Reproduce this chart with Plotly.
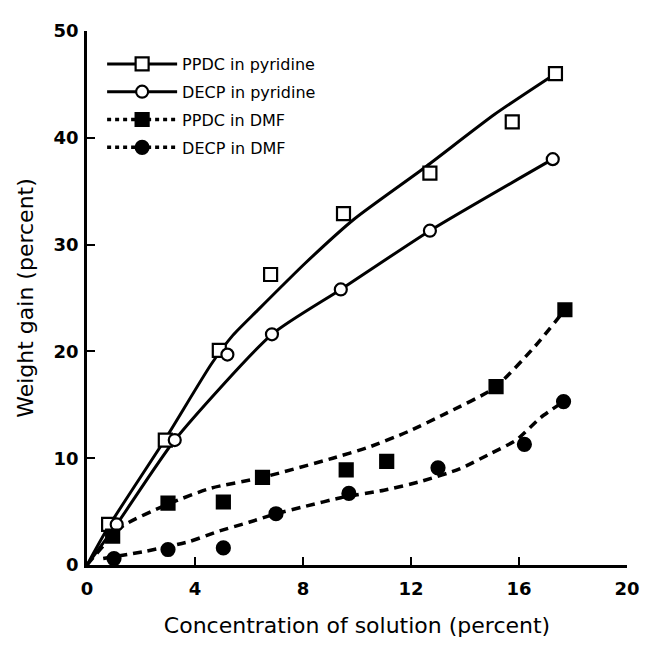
import plotly.graph_objects as go

# --- measured data points ---
ppdc_pyr_x = [0.8, 2.9, 4.9, 6.8, 9.5, 12.7, 15.75, 17.35]
ppdc_pyr_y = [3.8, 11.7, 20.1, 27.2, 32.9, 36.7, 41.5, 46.0]

decp_pyr_x = [1.1, 3.25, 5.2, 6.85, 9.4, 12.7, 17.25]
decp_pyr_y = [3.8, 11.7, 19.7, 21.6, 25.8, 31.3, 38.0]

ppdc_dmf_x = [0.95, 3.0, 5.05, 6.5, 9.6, 11.1, 15.15, 17.7]
ppdc_dmf_y = [2.7, 5.8, 5.9, 8.2, 8.9, 9.7, 16.7, 23.9]

decp_dmf_x = [1.0, 3.0, 5.05, 7.0, 9.7, 13.0, 16.2, 17.65]
decp_dmf_y = [0.6, 1.45, 1.6, 4.8, 6.7, 9.1, 11.3, 15.3]

# --- hand-drawn fitted curves ---
ppdc_pyr_curve_x = [0, 0.8, 2.9, 4.6, 5.4, 6.3, 8.1, 9.9, 12.5, 15.1, 17.35]
ppdc_pyr_curve_y = [0, 3.6, 11.8, 18.8, 21.5, 23.8, 28.3, 32.4, 37.2, 42.2, 46.0]

decp_pyr_curve_x = [0, 1.1, 3.25, 6.85, 9.4, 12.7, 17.25]
decp_pyr_curve_y = [0, 3.8, 11.7, 21.6, 25.8, 31.3, 38.0]

ppdc_dmf_curve_x = [0, 1.3, 3.0, 4.6, 6.5, 9.1, 10.4, 11.9, 13.3, 15.1, 16.6, 17.7]
ppdc_dmf_curve_y = [0, 3.6, 5.7, 7.2, 8.2, 10.0, 11.0, 12.5, 14.2, 16.6, 20.5, 23.9]

decp_dmf_curve_x = [0.6, 2.2, 3.8, 4.8, 6.0, 7.0, 8.1, 9.4, 11.0, 12.4, 13.8, 15.0, 15.9, 16.8, 17.65]
decp_dmf_curve_y = [0.6, 1.3, 2.2, 3.1, 4.0, 4.8, 5.5, 6.3, 7.0, 7.85, 9.0, 10.5, 11.7, 13.8, 15.3]

series_names = ["PPDC in pyridine", "DECP in pyridine", "PPDC in DMF", "DECP in DMF"]

BLACK = "#000000"
SOLID_W = 3
DASH_W = 3.5
DASH = "9px,6px"

# name, points x/y, curve x/y, symbol, filled, size, dash, width
series = [
    (series_names[0], ppdc_pyr_x, ppdc_pyr_y, ppdc_pyr_curve_x, ppdc_pyr_curve_y,
     "square", False, 13, "solid", SOLID_W),
    (series_names[1], decp_pyr_x, decp_pyr_y, decp_pyr_curve_x, decp_pyr_curve_y,
     "circle", False, 12, "solid", SOLID_W),
    (series_names[2], ppdc_dmf_x, ppdc_dmf_y, ppdc_dmf_curve_x, ppdc_dmf_curve_y,
     "square", True, 13, DASH, DASH_W),
    (series_names[3], decp_dmf_x, decp_dmf_y, decp_dmf_curve_x, decp_dmf_curve_y,
     "circle", True, 13, DASH, DASH_W),
]

fig = go.Figure()

for name, px, py, cx, cy, sym, filled, ms, dash, lw in series:
    fig.add_trace(go.Scatter(
        x=cx, y=cy, mode="lines", name=name, showlegend=False,
        line=dict(color=BLACK, width=lw, dash=dash, shape="spline", smoothing=0.6),
        hoverinfo="skip",
    ))
for name, px, py, cx, cy, sym, filled, ms, dash, lw in series:
    fig.add_trace(go.Scatter(
        x=px, y=py, mode="markers", name=name, showlegend=False,
        marker=dict(symbol=sym, size=ms, color=BLACK if filled else "white",
                    line=dict(color=BLACK, width=2.2)),
    ))

# legend entries (line + marker sample)
for name, px, py, cx, cy, sym, filled, ms, dash, lw in series:
    fig.add_trace(go.Scatter(
        x=[None], y=[None], mode="lines+markers", name=name, legendgroup=name,
        line=dict(color=BLACK, width=lw, dash="solid" if dash == "solid" else "4px,4px"),
        marker=dict(symbol=sym, size=ms, color=BLACK if filled else "white",
                    line=dict(color=BLACK, width=2.2)),
    ))

FONT = "DejaVu Sans"

fig.update_layout(
    width=644, height=639,
    margin=dict(l=79, r=15, t=16, b=71),
    paper_bgcolor="white", plot_bgcolor="white",
    font=dict(family=FONT, color=BLACK),
    showlegend=True,
    legend=dict(
        x=0.028, y=0.97, xanchor="left", yanchor="top",
        bgcolor="rgba(0,0,0,0)", font=dict(size=16, family=FONT),
        tracegroupgap=4, itemwidth=70,
    ),
    xaxis=dict(
        range=[0, 20], tickvals=[0, 4, 8, 12, 16, 20],
        showline=True, linecolor=BLACK, linewidth=2.5,
        ticks="inside", ticklen=8, tickwidth=2, tickcolor=BLACK,
        showgrid=False, zeroline=False,
        tickfont=dict(size=18, family=FONT, weight="bold"), ticklabelstandoff=6,
        title=dict(text="Concentration of solution (percent)",
                   font=dict(size=22, family=FONT), standoff=20),
    ),
    yaxis=dict(
        range=[0, 50], tickvals=[0, 10, 20, 30, 40, 50],
        showline=True, linecolor=BLACK, linewidth=2.5,
        ticks="inside", ticklen=8, tickwidth=2, tickcolor=BLACK,
        showgrid=False, zeroline=False,
        tickfont=dict(size=18, family=FONT, weight="bold"), ticklabelstandoff=2,
        title=dict(text="Weight gain (percent)",
                   font=dict(size=22, family=FONT), standoff=14),
    ),
)

fig.write_html("out.html")
